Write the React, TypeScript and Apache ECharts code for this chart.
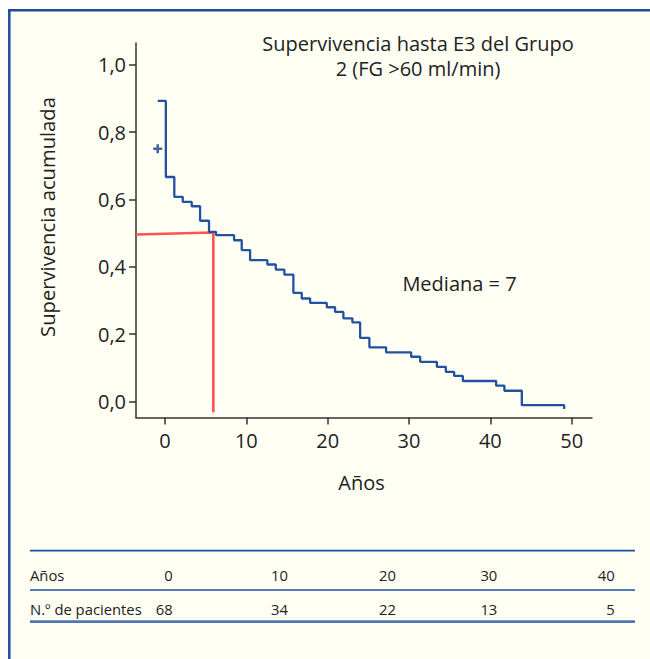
import React, { useEffect, useRef } from "react";
import * as echarts from "echarts";

// Kaplan-Meier curve (years, cumulative survival after each step)
const times = [-0.9, 0.1, 1.14, 2.18, 3.28, 4.31, 5.41, 6.27, 8.49, 9.43, 10.46, 12.58, 13.62, 14.67, 15.78, 16.81, 17.84, 19.89, 20.91, 21.93, 23.04, 23.99, 25.13, 27.18, 30.26, 31.37, 33.42, 34.53, 35.55, 36.62, 40.71, 41.73, 43.87, 49.08, 49.08];
const survival = [0.893, 0.667, 0.608, 0.593, 0.58, 0.537, 0.504, 0.494, 0.479, 0.45, 0.42, 0.407, 0.392, 0.377, 0.323, 0.306, 0.293, 0.28, 0.266, 0.247, 0.235, 0.189, 0.161, 0.146, 0.133, 0.118, 0.103, 0.088, 0.076, 0.061, 0.047, 0.032, -0.011, -0.011, -0.022];

// censored observation
const censorTimes = [-0.9];
const censorSurv = [0.751];

// median guide (red)
const medianX = [-3.57, 5.94, 5.94];
const medianY = [0.496, 0.502, -0.032];

const xTicks = [0, 10, 20, 30, 40, 50];
const yTicks = [0, 0.2, 0.4, 0.6, 0.8, 1.0];

const titleLines = ["Supervivencia hasta E3 del Grupo", "2 (FG >60 ml/min)"];
const medianLabel = "Mediana = 7";
const xName = "Años";
const yName = "Supervivencia acumulada";

// number at risk table
const tableRowLabels = ["Años", "N.º de pacientes"];
const tableYears = [0, 10, 20, 30, 40];
const tablePatients = [68, 34, 22, 13, 5];

const FONT = '"Open Sans", "Noto Sans", sans-serif';
const TXT = "#222";
const FS = 20;
const TFS = 14.8;

export default function App() {
  const ref = useRef<HTMLDivElement>(null);

  useEffect(() => {
    if (!ref.current) return;
    const chart = echarts.init(ref.current, undefined, { renderer: "svg" });

    const colRight = [172.7, 288, 396, 497.3, 614.7];
    const tableTexts: any[] = [];
    tableTexts.push({
      type: "text", x: 30, y: 575, z: 20,
      style: { text: tableRowLabels[0], fontSize: TFS, fontFamily: FONT, fill: TXT, align: "left", verticalAlign: "middle" },
    });
    tableTexts.push({
      type: "text", x: 30, y: 609, z: 20,
      style: { text: tableRowLabels[1], fontSize: TFS, fontFamily: FONT, fill: TXT, align: "left", verticalAlign: "middle" },
    });
    tableYears.forEach((v, i) => {
      tableTexts.push({
        type: "text", x: colRight[i], y: 575, z: 20,
        style: { text: String(v), fontSize: TFS, fontFamily: FONT, fill: TXT, align: "right", verticalAlign: "middle" },
      });
    });
    tablePatients.forEach((v, i) => {
      tableTexts.push({
        type: "text", x: colRight[i], y: 609, z: 20,
        style: { text: String(v), fontSize: TFS, fontFamily: FONT, fill: TXT, align: "right", verticalAlign: "middle" },
      });
    });

    const option: any = {
      animation: false,
      backgroundColor: "#FFFFF4",
      grid: { left: 136, right: 58, top: 43, bottom: 241.5, containLabel: false },
      xAxis: {
        type: "value",
        min: -3.57,
        max: 52.5,
        splitLine: { show: false },
        axisLine: { show: true, onZero: false, lineStyle: { color: "#333", width: 1.5 } },
        axisTick: { show: true, customValues: xTicks, length: 7, lineStyle: { color: "#333", width: 1.5 } },
        axisLabel: {
          customValues: xTicks,
          fontSize: FS,
          fontFamily: FONT,
          color: TXT,
          margin: 13,
        },
      },
      yAxis: {
        type: "value",
        min: -0.0475,
        max: 1.065,
        splitLine: { show: false },
        axisLine: { show: true, onZero: false, lineStyle: { color: "#333", width: 1.5 } },
        axisTick: { show: true, customValues: yTicks, length: 7, lineStyle: { color: "#333", width: 1.5 } },
        axisLabel: {
          customValues: yTicks,
          fontSize: FS,
          fontFamily: FONT,
          color: TXT,
          margin: 10,
          formatter: (v: number) => v.toFixed(1).replace(".", ","),
        },
      },
      series: [
        {
          type: "line",
          step: "end",
          data: times.map((t, i) => [t, survival[i]]),
          showSymbol: false,
          symbol: "none",
          lineStyle: { color: "#2152A2", width: 2.3 },
          z: 5,
        },
        {
          type: "line",
          data: medianX.map((t, i) => [t, medianY[i]]),
          showSymbol: false,
          symbol: "none",
          lineStyle: { color: "#FF5252", width: 2.6 },
          z: 4,
        },
        {
          type: "scatter",
          data: censorTimes.map((t, i) => [t, censorSurv[i]]),
          symbol: "path://M3.6,0H6.4V3.6H10V6.4H6.4V10H3.6V6.4H0V3.6H3.6Z",
          symbolSize: 9,
          itemStyle: { color: "#163F8C" },
          z: 6,
        },
      ],
      graphic: [
        { type: "rect", shape: { x: 0, y: 0, width: 650, height: 9 }, style: { fill: "#fff" }, z: 0 },
        { type: "rect", shape: { x: 0, y: 0, width: 8, height: 659 }, style: { fill: "#fff" }, z: 0 },
        { type: "line", shape: { x1: 8, y1: 10.3, x2: 650, y2: 10.3 }, style: { stroke: "#1E4C9E", lineWidth: 2.5 }, z: 1 },
        { type: "line", shape: { x1: 9.3, y1: 9, x2: 9.3, y2: 659 }, style: { stroke: "#1E4C9E", lineWidth: 2.5 }, z: 1 },
        {
          type: "text", x: 418, y: 43, z: 20,
          style: { text: titleLines[0], fontSize: FS, fontFamily: FONT, fill: TXT, align: "center", verticalAlign: "middle" },
        },
        {
          type: "text", x: 418, y: 68, z: 20,
          style: { text: titleLines[1], fontSize: FS, fontFamily: FONT, fill: TXT, align: "center", verticalAlign: "middle" },
        },
        {
          type: "text", x: 459.5, y: 283, z: 20,
          style: { text: medianLabel, fontSize: FS, fontFamily: FONT, fill: TXT, align: "center", verticalAlign: "middle" },
        },
        {
          type: "text", x: 361.5, y: 482.5, z: 20,
          style: { text: xName, fontSize: FS, fontFamily: FONT, fill: TXT, align: "center", verticalAlign: "middle" },
        },
        {
          type: "text", x: 47, y: 217, rotation: Math.PI / 2, z: 20,
          style: { text: yName, fontSize: 20.2, fontFamily: FONT, fill: TXT, align: "center", verticalAlign: "middle" },
        },
        { type: "line", shape: { x1: 30, y1: 550.7, x2: 635, y2: 550.7 }, style: { stroke: "#1E4FA6", lineWidth: 1.7 }, z: 1 },
        { type: "line", shape: { x1: 30, y1: 590, x2: 635, y2: 590 }, style: { stroke: "#1E4FA6", lineWidth: 1.7 }, z: 1 },
        { type: "line", shape: { x1: 30, y1: 621.7, x2: 635, y2: 621.7 }, style: { stroke: "#4F79B6", lineWidth: 2.7 }, z: 1 },
        ...tableTexts,
      ],
    };

    chart.setOption(option);
    return () => chart.dispose();
  }, []);

  return (
    <div
      ref={ref}
      style={{ position: "fixed", left: 0, top: 0, width: 650, height: 659 }}
    />
  );
}
